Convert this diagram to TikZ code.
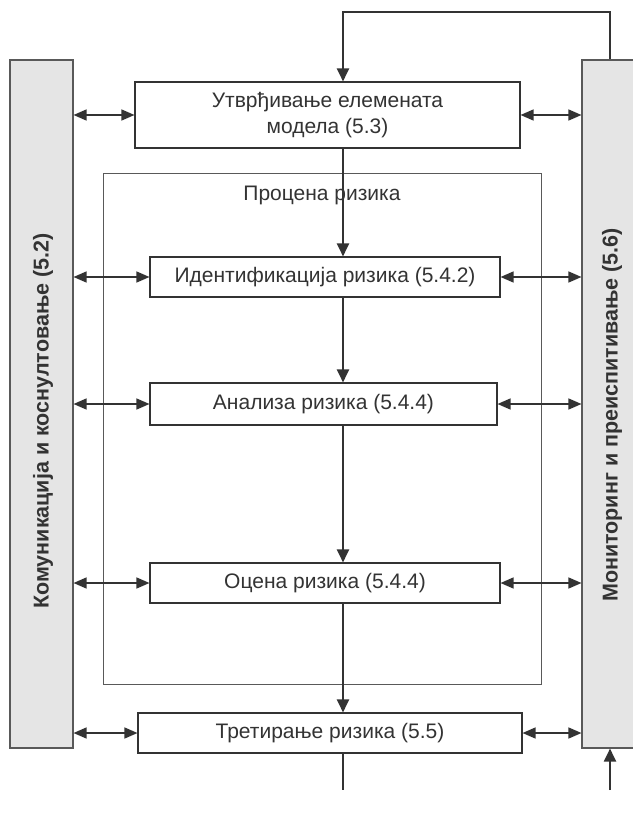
\documentclass[tikz,border=0pt]{standalone}
\usepackage{fontspec}
\setmainfont{Liberation Sans}
\usetikzlibrary{arrows.meta}
\definecolor{linija}{HTML}{333333}

\begin{document}
\begin{tikzpicture}[x=1pt,y=-1pt,
  box/.style={draw=linija,fill=white,line width=1.1pt,inner sep=0pt,align=center,font=\fontsize{21}{26}\selectfont,text=linija},
  bar/.style={draw=black!65,fill=black!10,line width=1.1pt,inner sep=0pt},
  barlabel/.style={rotate=90,font=\fontsize{21.5}{25}\selectfont\bfseries,text=linija},
  flow/.style={line width=2pt,draw=linija,-{Triangle[length=13pt,width=12pt]}},
  both/.style={line width=1.4pt,draw=linija,{Triangle[length=13pt,width=11pt]}-{Triangle[length=13pt,width=11pt]}}]
\useasboundingbox (0,0) rectangle (632,818);
% side bars
\node[bar,minimum width=63,minimum height=688] (komun) at (41.5,404) {};
\node[bar,minimum width=60,minimum height=688] (monit) at (612,404) {};
\node[barlabel] (komuntxt) at (43,421) {Комуникација и коснултовање (5.2)};
\node[barlabel] (monittxt) at (612,415) {Мониторинг и преиспитивање (5.6)};
% frame of the assessment
\draw[black!65,line width=0.9pt] (103,173) rectangle (541,684);
\node[font=\fontsize{21}{26}\selectfont,text=linija] (procena) at (322,195) {Процена ризика};
% steps
\node[box,minimum width=385,minimum height=66] (elem) at (327.5,115) {Утврђивање елемената\\модела (5.3)};
\node[box,minimum width=350,minimum height=40] (ident) at (325,277) {Идентификација ризика (5.4.2)};
\node[box,minimum width=347,minimum height=42] (anal) at (323.5,404) {Анализа ризика (5.4.4)};
\node[box,minimum width=350,minimum height=40] (ocena) at (325,583) {Оцена ризика (5.4.4)};
\node[box,minimum width=384,minimum height=40] (tret) at (330,733) {Третирање ризика (5.5)};
\coordinate (osa) at (343,0);
\coordinate (gore) at (343,12);
\coordinate (dole) at (343,790);
\coordinate (ulaz) at (610,790);
% main flow
\draw[flow] (monit.north -| ulaz) |- (gore) -- (elem.north -| osa);
\foreach \a/\b in {elem/ident,ident/anal,anal/ocena,ocena/tret}
  \draw[flow] (\a.south -| osa) -- (\b.north -| osa);
\draw[line width=2pt,draw=linija] (tret.south -| osa) -- (dole);
\draw[flow] (ulaz) -- (monit.south -| ulaz);
% links to the bars
\foreach \s in {elem,ident,anal,ocena,tret} {
  \draw[both] (komun.east |- \s.west) -- (\s.west);
  \draw[both] (\s.east) -- (monit.west |- \s.east);
}
\end{tikzpicture}
\end{document}
